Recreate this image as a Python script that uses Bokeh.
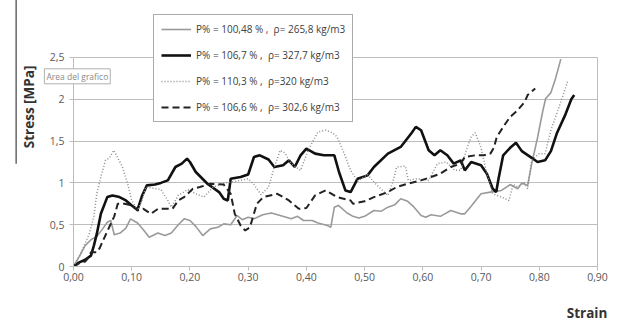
import math
from bokeh.plotting import figure
from bokeh.models import Range1d, FixedTicker, Legend, LegendItem, LinearAxis
from bokeh.core.properties import value
from bokeh.embed import file_html
from bokeh.resources import INLINE

# ---- data ----
x_ticks = [0.0, 0.1, 0.2, 0.3, 0.4, 0.5, 0.6, 0.7, 0.8, 0.9]
x_tick_labels = ["0,00", "0,10", "0,20", "0,30", "0,40", "0,50", "0,60", "0,70", "0,80", "0,90"]
y_ticks = [0.0, 0.5, 1.0, 1.5, 2.0, 2.5]
y_tick_labels = ["0", "0,5", "1", "1,5", "2", "2,5"]

labels = [
    "P% = 100,48 % ,  \u03c1= 265,8 kg/m3",
    "P% = 106,7 % ,  \u03c1= 327,7 kg/m3",
    "P% = 110,3 % ,  \u03c1=320 kg/m3",
    "P% = 106,6 % ,  \u03c1= 302,6 kg/m3",
]

s1_x = [0, 0.01, 0.02, 0.03, 0.04, 0.05, 0.058, 0.064, 0.07, 0.08, 0.09, 0.098, 0.11, 0.12, 0.13,
        0.145, 0.157, 0.168, 0.18, 0.19, 0.20, 0.21, 0.222, 0.235, 0.248, 0.258, 0.27, 0.281, 0.29,
        0.30, 0.31, 0.325, 0.34, 0.355, 0.374, 0.385, 0.395, 0.41, 0.42, 0.436, 0.442, 0.448, 0.455,
        0.47, 0.48, 0.49, 0.50, 0.516, 0.528, 0.54, 0.552, 0.562, 0.574, 0.585, 0.597, 0.605, 0.614,
        0.63, 0.648, 0.665, 0.672, 0.683, 0.70, 0.716, 0.735, 0.75, 0.763, 0.77, 0.78, 0.787, 0.797,
        0.806, 0.811, 0.82, 0.828, 0.837]
s1_y = [0, 0.12, 0.25, 0.32, 0.36, 0.45, 0.53, 0.55, 0.38, 0.40, 0.46, 0.57, 0.52, 0.44, 0.35,
        0.40, 0.37, 0.40, 0.50, 0.57, 0.55, 0.48, 0.37, 0.45, 0.47, 0.51, 0.50, 0.61, 0.56,
        0.59, 0.57, 0.62, 0.64, 0.61, 0.57, 0.60, 0.55, 0.55, 0.52, 0.49, 0.47, 0.71, 0.73,
        0.64, 0.60, 0.58, 0.60, 0.67, 0.66, 0.71, 0.74, 0.81, 0.78, 0.71, 0.61, 0.59, 0.62,
        0.60, 0.67, 0.63, 0.63, 0.72, 0.87, 0.89, 0.91, 0.98, 0.93, 1.0, 0.97, 1.23, 1.54,
        1.86, 2.01, 2.08, 2.25, 2.48]

s2_x = [0, 0.01, 0.02, 0.03, 0.035, 0.04, 0.047, 0.058, 0.067, 0.079, 0.09, 0.10, 0.11, 0.118,
        0.126, 0.14, 0.15, 0.162, 0.175, 0.186, 0.195, 0.20, 0.21, 0.23, 0.25, 0.258, 0.265, 0.27,
        0.287, 0.30, 0.31, 0.32, 0.335, 0.345, 0.36, 0.37, 0.38, 0.39, 0.40, 0.415, 0.43, 0.448,
        0.456, 0.467, 0.476, 0.488, 0.505, 0.516, 0.54, 0.562, 0.58, 0.588, 0.597, 0.61, 0.62,
        0.63, 0.642, 0.653, 0.665, 0.672, 0.683, 0.70, 0.71, 0.72, 0.726, 0.73, 0.738, 0.75,
        0.76, 0.77, 0.787, 0.797, 0.81, 0.82, 0.83, 0.845, 0.855, 0.86]
s2_y = [0, 0.05, 0.08, 0.13, 0.25, 0.39, 0.63, 0.83, 0.85, 0.83, 0.79, 0.73, 0.68, 0.85,
        0.97, 0.98, 1.0, 1.03, 1.19, 1.23, 1.29, 1.25, 1.13, 0.99, 0.89, 0.81, 0.79, 1.05,
        1.07, 1.1, 1.31, 1.33, 1.28, 1.19, 1.21, 1.27, 1.19, 1.33, 1.41, 1.35, 1.33, 1.33,
        1.13, 0.91, 0.89, 1.05, 1.09, 1.19, 1.35, 1.43, 1.59, 1.67, 1.63, 1.39, 1.33,
        1.39, 1.33, 1.23, 1.27, 1.15, 1.25, 1.21, 1.11, 0.93, 0.89, 1.05, 1.33, 1.42,
        1.48, 1.38, 1.30, 1.25, 1.27, 1.38, 1.59, 1.82, 2.0, 2.05]

s3_x = [0, 0.01, 0.02, 0.027, 0.035, 0.04, 0.048, 0.055, 0.062, 0.069, 0.076, 0.084, 0.093, 0.10,
        0.11, 0.118, 0.124, 0.135, 0.15, 0.162, 0.168, 0.18, 0.196, 0.21, 0.224, 0.24, 0.26, 0.28,
        0.30, 0.31, 0.322, 0.335, 0.345, 0.355, 0.363, 0.374, 0.39, 0.403, 0.42, 0.433, 0.445,
        0.453, 0.465, 0.476, 0.488, 0.505, 0.52, 0.54, 0.548, 0.555, 0.57, 0.575, 0.59, 0.61,
        0.625, 0.64, 0.655, 0.665, 0.675, 0.683, 0.69, 0.70, 0.71, 0.72, 0.735, 0.748, 0.755,
        0.763, 0.774, 0.78, 0.787, 0.80, 0.81, 0.82, 0.83, 0.84, 0.849]
s3_y = [0, 0.12, 0.28, 0.39, 0.6, 0.87, 1.1, 1.27, 1.30, 1.39, 1.3, 1.19, 0.99, 0.79,
        0.67, 0.8, 0.95, 0.94, 0.92, 0.79, 0.71, 0.85, 0.92, 0.87, 0.83, 0.95, 1.0, 1.02,
        1.05, 0.98, 0.86, 0.95, 1.19, 1.39, 1.36, 1.23, 1.15, 1.39, 1.61, 1.63, 1.6,
        1.55, 1.35, 1.15, 1.02, 1.1, 0.98, 0.85, 1.0, 1.19, 1.2, 1.03, 1.05, 1.03,
        1.23, 1.25, 1.15, 1.15, 1.4, 1.55, 1.6, 1.42, 1.11, 0.87, 0.83, 0.79, 0.98,
        0.95, 1.0, 0.93, 1.27, 1.35, 1.35, 1.63, 1.83, 2.03, 2.22]

s4_x = [0, 0.01, 0.02, 0.025, 0.03, 0.04, 0.045, 0.05, 0.06, 0.07, 0.076, 0.088, 0.10, 0.11, 0.12,
        0.133, 0.145, 0.157, 0.17, 0.18, 0.19, 0.205, 0.217, 0.235, 0.258, 0.27, 0.277, 0.287,
        0.295, 0.303, 0.315, 0.326, 0.35, 0.37, 0.387, 0.40, 0.415, 0.433, 0.453, 0.476, 0.48,
        0.50, 0.516, 0.54, 0.555, 0.574, 0.597, 0.614, 0.63, 0.648, 0.665, 0.672, 0.69, 0.705,
        0.716, 0.722, 0.727, 0.74, 0.75, 0.763, 0.775, 0.78, 0.793]
s4_y = [0, 0.04, 0.06, 0.1, 0.17, 0.17, 0.22, 0.3, 0.45, 0.6, 0.75, 0.75, 0.73, 0.67, 0.69,
        0.63, 0.69, 0.69, 0.69, 0.79, 0.83, 0.93, 0.95, 0.99, 0.98, 0.87, 0.63, 0.49,
        0.43, 0.47, 0.75, 0.83, 0.87, 0.79, 0.69, 0.7, 0.85, 0.91, 0.83, 0.79, 0.75,
        0.78, 0.83, 0.89, 0.95, 0.99, 1.03, 1.07, 1.11, 1.19, 1.23, 1.31, 1.33, 1.33,
        1.35, 1.42, 1.55, 1.69, 1.79, 1.87, 1.97, 2.05, 2.13]

FONT = "Open Sans"
TICK_COLOR = "#595959"
GRID = "#bdbdbd"
Y_TOP = 3.062   # frame extends above 2.5 so the overlapping legend lies inside it

p = figure(width=611, height=323, output_backend="svg", toolbar_location=None,
           x_range=Range1d(0, 0.9), y_range=Range1d(0, Y_TOP),
           min_border_left=73, min_border_right=14, min_border_top=10, min_border_bottom=57)
p.frame_width = 524
p.frame_height = 256

p.xgrid.grid_line_color = None
p.ygrid.grid_line_color = GRID
p.ygrid.grid_line_width = 1
p.outline_line_color = None
p.background_fill_color = "white"
p.border_fill_color = "white"

right_axis = LinearAxis(bounds=(0, 2.5), ticker=FixedTicker(ticks=[]),
                        major_label_text_font_size="0px", minor_tick_line_color=None,
                        major_tick_line_color=None, axis_line_color=GRID)
p.add_layout(right_axis, "right")

for ax, ticks, labs in ((p.xaxis[0], x_ticks, x_tick_labels), (p.yaxis[0], y_ticks, y_tick_labels)):
    ax.ticker = FixedTicker(ticks=ticks)
    ax.major_label_overrides = {t: l for t, l in zip(ticks, labs)}
    ax.minor_tick_line_color = None
    ax.major_tick_in = 0
    ax.major_tick_out = 4
    ax.axis_line_color = GRID
    ax.major_tick_line_color = GRID
    ax.major_label_text_font = FONT
    ax.major_label_text_font_size = "10.5px"
    ax.major_label_text_color = TICK_COLOR
p.xaxis[0].major_label_standoff = 2
p.yaxis[0].major_label_standoff = 5
p.yaxis[0].bounds = (0, 2.5)

r1 = p.line(s1_x, s1_y, line_color="#9a9a9a", line_width=1.6)
r2 = p.line(s2_x, s2_y, line_color="#111111", line_width=2.6)
r3 = p.line(s3_x, s3_y, line_color="#8c8c8c", line_width=1.5, line_dash="1 2")
r4 = p.line(s4_x, s4_y, line_color="#222222", line_width=2.0, line_dash="7 4")

legend = Legend(items=[LegendItem(label=l, renderers=[r]) for l, r in zip(labels, [r1, r2, r3, r4])],
                location=(80, 144), orientation="vertical",
                label_text_font=FONT, label_text_font_size="10px", label_text_color="#404040",
                glyph_width=30, glyph_height=14, label_height=14, spacing=12, padding=7,
                label_standoff=5, border_line_color="#555555", border_line_width=1,
                background_fill_color="white", background_fill_alpha=1.0)
p.add_layout(legend, "center")

# free texts (unclipped overlay glyphs)
p.text(x=[-0.077], y=[1.93], text=["Stress  [MPa]"], angle=math.pi / 2,
       text_align="center", text_baseline="middle", text_font=value(FONT),
       text_font_style="bold", text_font_size="13.5px", text_color="#333333", level="overlay")
p.text(x=[0.882], y=[-0.56], text=["Strain"],
       text_align="center", text_baseline="middle", text_font=value(FONT),
       text_font_style="bold", text_font_size="13.5px", text_color="#333333", level="overlay")
p.text(x=[-0.05], y=[2.275], text=["Area del grafico"],
       text_align="left", text_baseline="middle", text_font=value(FONT),
       text_font_size="8.5px", text_color="#8a8a8a", level="overlay",
       background_fill_color="white", border_line_color="#b0b0b0", padding=2)
p.segment(x0=[-0.0985], y0=[3.2], x1=[-0.0985], y1=[1.23], line_color="#666666",
          line_width=1.5, level="overlay")

open("out.html", "w").write(file_html(p, INLINE))
